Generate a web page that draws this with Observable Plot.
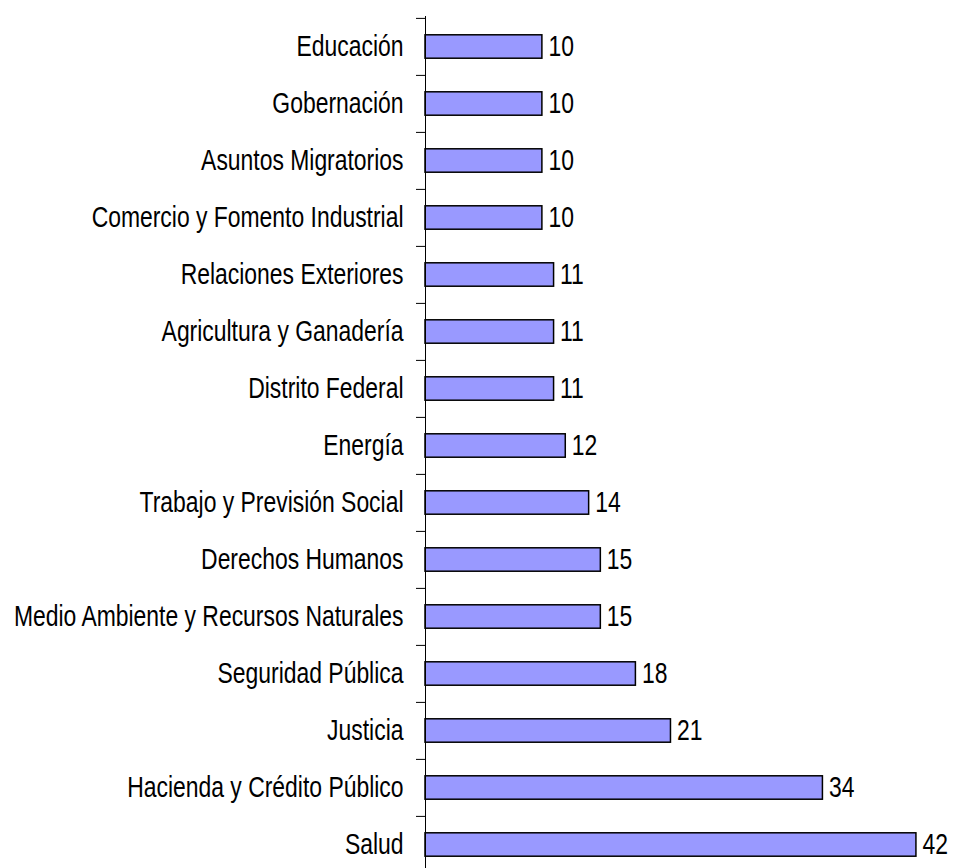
<!DOCTYPE html>
<html><head><meta charset="utf-8">
<script src="https://cdn.jsdelivr.net/npm/d3@7"></script>
<script src="https://cdn.jsdelivr.net/npm/@observablehq/plot@0.6"></script>
<style>body{margin:0;background:#fff}</style>
</head><body><div id="chart"></div>
<script>
const categories = ["Educación","Gobernación","Asuntos Migratorios","Comercio y Fomento Industrial","Relaciones Exteriores","Agricultura y Ganadería","Distrito Federal","Energía","Trabajo y Previsión Social","Derechos Humanos","Medio Ambiente y Recursos Naturales","Seguridad Pública","Justicia","Hacienda y Crédito Público","Salud"];
const values = [10,10,10,10,11,11,11,12,14,15,15,18,21,34,42];
const data = categories.map((c, i) => ({category: c, value: values[i]}));

const W = 953, H = 868, mt = 16, mb = -6, ml = 425, mr = 2;
const step = (H - mt - mb) / categories.length;
const font = "'Liberation Sans', Arial, sans-serif";
const squeeze = 0.79;

const plot = Plot.plot({
  width: W, height: H,
  marginTop: mt, marginBottom: mb, marginLeft: ml, marginRight: mr,
  style: {fontFamily: font, fontSize: "29px", color: "#000", background: "#fff", overflow: "hidden"},
  x: {domain: [0, 45], axis: null},
  y: {domain: categories, padding: 0, axis: null, label: null},
  marks: [
    Plot.barX(data, {x: "value", y: "category", fill: "#9999FF", stroke: "#000", strokeWidth: 1.5, insetTop: 16.8, insetBottom: 16.8}),
    Plot.text(data, {x: "value", y: "category", text: d => String(d.value), textAnchor: "start", dx: 6, fill: "#000", fontSize: 29}),
    Plot.axisY({tickSize: 0, tickPadding: 22, fontSize: 29, label: null, fill: "#000"}),
    Plot.axisY({tickSize: 9, tickFormat: () => "", dy: -step / 2, label: null, stroke: "#000"}),
    Plot.ruleX([0], {stroke: "#000", strokeWidth: 1})
  ]
});
// horizontally condense the labels (the reference uses a narrow face)
plot.querySelectorAll("text").forEach(t => {
  const tr = t.getAttribute("transform") || "";
  t.setAttribute("transform", tr + ` scale(${squeeze},1)`);
});
document.getElementById("chart").appendChild(plot);
</script>
</body></html>
